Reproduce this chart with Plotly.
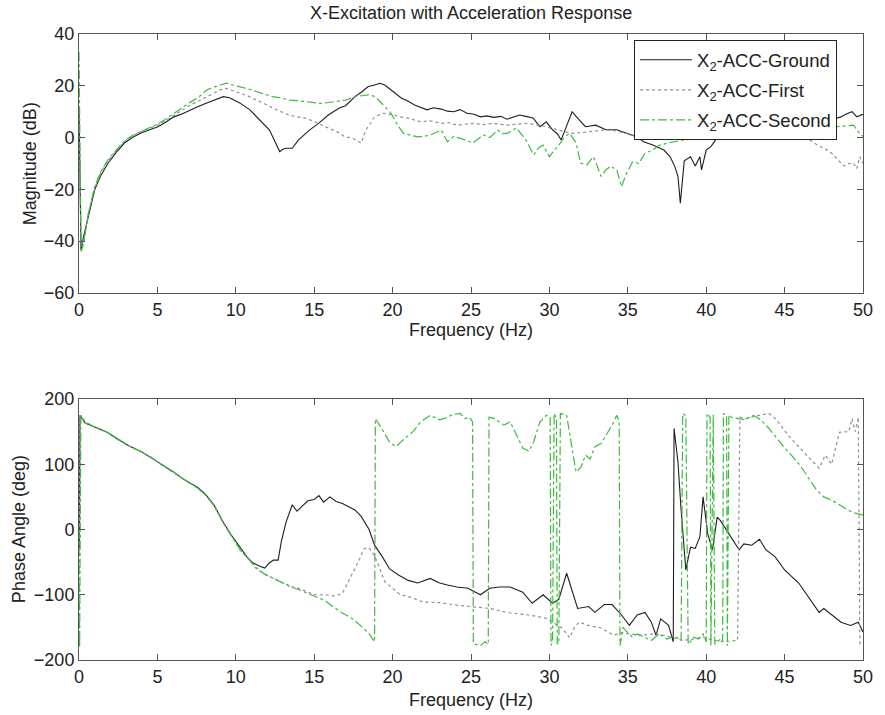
import plotly.graph_objects as go

# ---------------- Magnitude (dB) ----------------
ground_mag_f = [0.0, 0.06, 0.13, 0.3, 0.59, 1.0, 1.4, 1.85, 2.4, 2.9, 3.4, 3.95, 4.5, 5.0, 5.5, 6.05, 6.6, 7.1, 7.6, 8.15,
                8.7, 9.2, 9.6, 10.25, 10.9, 11.5, 12.15, 12.45, 12.8, 13.0, 13.2, 13.6, 14.0, 14.7, 15.3, 15.9, 16.6,
                17.0, 17.6, 18.0, 18.45, 18.8, 19.2, 19.5, 19.9, 20.55, 21.0, 21.4, 22.2, 22.6, 23.1, 23.5, 23.9, 24.3,
                24.75, 25.2, 25.6, 26.0, 26.45, 26.9, 27.3, 27.7, 28.1, 28.5, 28.95, 29.4, 29.8, 30.2, 30.5, 30.75,
                31.0, 31.2, 31.45, 31.7, 31.9, 32.3, 32.95, 33.6, 34.3, 35.2, 35.6, 36.0, 36.6, 37.3, 37.7, 38.0,
                38.2, 38.35, 38.5, 38.6, 39.0, 39.3, 39.6, 39.7, 40.0, 40.3, 40.6, 41.0, 41.5, 42.0, 43.0, 44.0,
                45.0, 46.0, 47.0, 48.0, 48.6, 48.9, 49.3, 49.6, 50.0]
ground_mag_db = [12, -20, -43.4, -38, -30.5, -20.2, -14.5, -9.9, -5.5, -2.1, 0, 1.8, 3, 4.1, 5.8, 8, 9.2, 10.7, 12, 13.4,
                 14.6, 15.8, 15.4, 13.4, 10.7, 6.8, 2.9, -0.9, -5.4, -4.5, -4.1, -4.1, -0.9, 2.9, 5.6, 8.7, 11.4,
                 12.3, 15.8, 17.5, 19.7, 20.2, 21, 20.3, 18.4, 15.3, 14, 12.6, 10.7, 11.5, 11, 10.2, 10, 10.8,
                 9.4, 9, 8, 8.4, 7.8, 8.2, 7.1, 7.8, 8.7, 8.2, 7.6, 4.2, 6.1, 3, 1.5, -0.9,
                 3, 6.5, 10, 8.2, 6.8, 4.2, 4.8, 3, 3, 1, 0.2, -1.6, -2.9, -4.8, -7.4, -11.2,
                 -15, -25.3, -14, -9, -7.4, -11, -7.4, -12.5, -4.8, -3.5, -0.9, 2, 4, 5, 6, 5,
                 6, 7, 6, 7, 8, 9, 10, 8, 9]

first_mag_f = [0.0, 0.06, 0.13, 0.3, 0.59, 1.0, 1.4, 1.85, 2.4, 2.9, 3.4, 3.95, 4.5, 5.0, 5.5, 6.05, 6.6, 7.1, 7.6, 8.15,
               8.6, 9.0, 9.4, 9.8, 10.25, 10.8, 11.3, 11.8, 12.35, 12.9, 13.4, 13.9, 14.45, 15.0, 15.5, 16.0, 16.6,
               16.9, 17.4, 17.7, 18.0, 18.3, 18.6, 18.85, 19.4, 20.1, 20.5, 21.0, 21.8, 22.4, 23.1, 23.6, 24.1, 24.6,
               25.1, 25.8, 26.4, 27.3, 27.9, 28.5, 29.4, 30.0, 30.45, 31.0, 31.5, 32.3, 33.0, 33.6, 34.3, 35.0, 35.6,
               36.5, 38.0, 40.0, 42.0, 44.0, 45.5, 46.5, 47.1, 47.7, 48.1, 48.4, 48.8, 49.1, 49.4, 49.6, 49.8, 50.0]
first_mag_db = [10, -15, -41, -40, -29.5, -19.5, -13.5, -9, -4.8, -1.5, 0.5, 2.3, 3.6, 4.8, 6.5, 8.7, 10.6, 12.6, 14, 15.8,
                17, 18.4, 19, 18.2, 17.1, 16, 14.5, 13.2, 11.4, 10, 8.7, 8, 7.5, 6.2, 4.9, 3.5, 1.8,
                0.5, -0.2, -1, -2.1, 3, 6, 8, 9.4, 8.7, 8, 7.5, 6.1, 6.5, 5.5, 5.8, 4.8, 5.2,
                5.5, 5, 5.5, 4.8, 5.2, 5.5, 4.8, 3.8, 2.9, 2.2, 1.6, 2.2, 2.6, 3, 2.5, 1.5, 0.5,
                0.5, 1, 1.5, 1, 0.5, 0.2, -0.5, -2.9, -4.8, -6.5, -8.7, -11, -10, -9.9, -12, -7.4, -10]

second_mag_f = [0.0, 0.05, 0.13, 0.3, 0.59, 1.0, 1.4, 1.85, 2.4, 2.9, 3.4, 3.95, 4.5, 5.0, 5.5, 6.05, 6.6, 7.1, 7.6, 8.15,
                8.6, 9.0, 9.4, 9.8, 10.25, 10.8, 11.3, 11.8, 12.35, 12.9, 13.4, 13.9, 14.45, 15.0, 15.5, 16.0, 16.6,
                17.0, 17.6, 18.0, 18.45, 18.8, 19.1, 19.5, 19.9, 20.3, 20.7, 21.2, 21.6, 22.0, 22.4, 23.1, 23.5, 23.9,
                24.3, 24.7, 25.1, 25.5, 25.8, 26.2, 26.7, 27.0, 27.3, 27.9, 28.2, 28.5, 29.0, 29.3, 29.6, 30.0, 30.3,
                30.6, 31.0, 31.3, 31.7, 32.0, 32.4, 32.8, 33.05, 33.3, 33.6, 33.9, 34.3, 34.6, 34.9, 35.3, 35.7,
                36.1, 36.6, 37.0, 37.6, 38.5, 40.0, 42.0, 44.0, 46.0, 48.0, 49.0, 49.4, 49.6, 49.8, 50.0]
second_mag_db = [33, 10, -44, -41, -29.5, -19, -13, -8.5, -4.5, -1.2, 0.8, 2.4, 3.8, 5.2, 7, 9.4, 11.6, 13.7, 15.5, 18.4,
                 19.5, 20.4, 21, 20.3, 19.7, 18.8, 17.8, 16.8, 15.8, 15.3, 14.5, 14.3, 13.8, 13.5, 13.2, 13.6, 14.2,
                 14.5, 15.8, 16.2, 16.5, 16, 14.5, 12, 9.4, 5, 1.6, 0.8, 0.3, 0.5, 1, 2.9, -1.6, 0.5,
                 -0.2, -1, -2.1, -0.5, 1, 0, 2.9, 1.5, 1.6, 3.7, 1.5, -0.9, -6.7, -4, -2.9, -7.4, -5,
                 -2.9, 0.5, 1.6, -2.1, -9.9, -10.5, -7.4, -11, -15, -12.5, -11, -12.5, -19, -14, -9.4, -10,
                 -6, -4.8, -3, -2, -1, 0, 1, 2, 3, 4, 4.5, 4.8, 3, 1.5, 0.5]

# ---------------- Phase (deg) ----------------
ground_ph_f = [0.0, 0.03, 0.06, 0.4, 1.0, 1.8, 2.5, 3.2, 4.0, 4.6, 5.2, 6.05, 6.6, 7.1, 7.6, 8.1, 8.6, 9.2, 9.7, 10.3,
               10.7, 11.1, 11.5, 11.85, 12.1, 12.4, 12.7, 12.9, 13.2, 13.6, 13.9, 14.2, 14.6, 15.0, 15.3, 15.6, 16.0,
               16.4, 16.8, 17.2, 17.6, 18.0, 18.5, 18.85, 19.3, 19.8, 20.4, 21.0, 21.6, 22.4, 23.0, 23.5, 24.1, 24.8,
               25.3, 25.6, 26.2, 26.8, 27.5, 28.3, 28.9, 29.6, 30.2, 30.6, 31.1, 31.5, 31.8, 32.5, 32.9, 33.5, 34.0,
               34.6, 35.1, 35.6, 36.1, 36.5, 36.8, 37.1, 37.6, 37.9, 37.95, 38.2, 38.4, 38.7, 39.0, 39.3, 39.6, 39.8,
               40.1, 40.4, 40.7, 40.9, 41.3, 41.7, 42.1, 42.4, 42.9, 43.4, 43.8, 44.4, 45.0, 45.9, 46.5, 47.2, 47.5,
               48.0, 48.6, 49.2, 49.7, 50.0]
ground_ph_deg = [100, -30, 175, 163, 157, 149, 138, 128, 119, 110, 100, 88, 78, 71, 64, 53, 38, 11, -8, -28,
                 -42, -51, -56, -59, -52, -47, -47, -19, 11, 38, 28, 35, 44, 46, 52, 42, 50,
                 43, 40, 35, 30, 20, 0, -24, -40, -60, -70, -78, -82, -75, -82, -85, -88, -90,
                 -96, -100, -90, -88, -88, -96, -113, -100, -113, -107, -67, -100, -121, -118, -127, -115, -115,
                 -131, -147, -131, -127, -142, -162, -137, -147, -172, 155, 103, 30, -62, -27, -29, -11, 50,
                 -7, -31, 19, 14, -1, -15, -31, -22, -24, -15, -31, -42, -62, -82, -102, -127, -121,
                 -131, -142, -147, -142, -157]

first_ph_f = [0.0, 0.03, 0.06, 0.4, 1.0, 1.8, 2.5, 3.2, 4.0, 4.6, 5.2, 6.05, 6.6, 7.1, 7.6, 8.1, 8.6, 9.2, 9.7, 10.3,
              10.8, 11.3, 11.8, 12.4, 13.0, 13.6, 14.0, 14.5, 15.0, 15.7, 16.3, 16.8, 17.4, 17.8, 18.2, 18.5, 18.85,
              19.5, 20.5, 21.2, 21.9, 23.0, 24.1, 24.9, 26.2, 27.5, 28.7, 29.8, 30.3, 30.8, 31.3, 31.6, 31.9, 32.5,
              33.3, 34.1, 34.6, 35.7, 36.8, 37.8, 38.5, 39.2, 39.8, 40.5, 41.2, 42.0, 42.15, 42.5, 43.0, 43.5, 44.0,
              44.5, 45.2, 46.2, 47.2, 47.6, 48.0, 48.5, 49.1, 49.3, 49.5, 49.7, 49.8, 50.0]
first_ph_deg = [100, -30, 175, 163, 157, 149, 138, 128, 119, 110, 100, 88, 78, 71, 63, 52, 37, 10, -10, -32,
                -45, -60, -68, -75, -82, -88, -90, -95, -100, -100, -102, -98, -70, -50, -29, -28, -40,
                -80, -100, -104, -111, -112, -116, -118, -121, -128, -131, -136, -144, -151, -166, -150, -142, -147,
                -151, -162, -158, -162, -160, -165, -170, -168, -165, -170, -172, -170, 172, 170, 173, 175, 178,
                168, 145, 119, 94, 114, 100, 149, 150, 170, 150, 172, -175, -175]

second_ph_f = [0.0, 0.04, 0.12, 0.4, 1.0, 1.8, 2.5, 3.2, 4.0, 4.6, 5.2, 6.05, 6.6, 7.1, 7.6, 8.1, 8.6, 9.2, 9.7, 10.3,
               10.8, 11.3, 11.8, 12.4, 13.0, 13.5, 14.0, 14.5, 15.0, 15.6, 16.2, 16.8, 17.4, 18.0, 18.5, 18.85, 18.9,
               19.3, 19.8, 20.2, 20.8, 21.3, 21.8, 22.4, 23.0, 23.5, 23.8, 24.3, 24.6, 24.9, 25.1, 25.15, 25.6, 25.9,
               26.1, 26.15, 26.5, 27.1, 27.5, 28.0, 28.3, 28.7, 29.0, 29.4, 29.8, 30.05, 30.1, 30.2, 30.3, 30.45,
               30.5, 30.6, 30.7, 31.1, 31.4, 31.7, 32.0, 32.3, 32.6, 32.9, 33.3, 33.7, 34.0, 34.3, 34.45, 34.5,
               34.7, 35.0, 35.3, 35.6, 36.0, 36.5, 37.0, 37.5, 38.0, 38.4, 38.5, 38.7, 38.85, 39.2, 39.5, 39.8,
               40.0, 40.05, 40.25, 40.3, 40.45, 40.55, 40.9, 41.05, 41.1, 41.3, 41.35, 41.45, 41.6, 42.0, 42.5,
               43.0, 43.5, 44.0, 44.5, 45.0, 45.5, 46.0, 46.5, 47.0, 47.5, 48.0, 48.5, 49.0, 49.5, 50.0]
second_ph_deg = [0, -181, 175, 165, 157, 149, 139, 128, 119, 111, 100, 87, 78, 70, 63, 52, 37, 10, -10, -32,
                 -45, -58, -68, -75, -82, -88, -92, -97, -103, -108, -118, -128, -136, -148, -160, -172, 170,
                 155, 134, 127, 140, 150, 165, 175, 168, 172, 176, 178, 170, 172, 165, -175, -178, -172,
                 -176, 172, 170, 160, 165, 140, 125, 120, 135, 165, 175, 172, -178, -170, 178, 170,
                 -175, -175, 178, 175, 130, 88, 95, 114, 108, 127, 132, 148, 160, 175, 165, -178,
                 -150, -158, -165, -160, -165, -170, -160, -168, -163, -170, 178, 174, -176, -165, -168, -160,
                 -172, 178, 172, -178, 176, -176, -168, -172, 178, 174, -178, 176, 172, 170, 168,
                 175, 168, 155, 140, 125, 112, 98, 80, 62, 50, 45, 38, 30, 25, 22]

series_names = ["X<sub>2</sub>-ACC-Ground", "X<sub>2</sub>-ACC-First", "X<sub>2</sub>-ACC-Second"]
x_ticks = [0, 5, 10, 15, 20, 25, 30, 35, 40, 45, 50]
mag_ticks = [-60, -40, -20, 0, 20, 40]
phase_ticks = [-200, -100, 0, 100, 200]

FONT = "Liberation Sans, Arial, Helvetica, sans-serif"
TXT = "#222222"
C_GROUND = "#1e1e1e"
C_FIRST = "#8f8f8f"
C_SECOND = "#3dbb3d"

fig = go.Figure()
styles = [
    (C_GROUND, "solid", 1.1),
    (C_FIRST, "dot", 1.2),
    (C_SECOND, "dashdot", 1.2),
]
mag_data = [(ground_mag_f, ground_mag_db), (first_mag_f, first_mag_db), (second_mag_f, second_mag_db)]
ph_data = [(ground_ph_f, ground_ph_deg), (first_ph_f, first_ph_deg), (second_ph_f, second_ph_deg)]

for i, ((fx, fy), (color, dash, w)) in enumerate(zip(mag_data, styles)):
    fig.add_trace(go.Scatter(x=fx, y=fy, mode="lines", name=series_names[i], legendgroup=f"g{i}",
                             line=dict(color=color, dash=dash, width=w), xaxis="x", yaxis="y"))
for i, ((fx, fy), (color, dash, w)) in enumerate(zip(ph_data, styles)):
    fig.add_trace(go.Scatter(x=fx, y=fy, mode="lines", name=series_names[i], legendgroup=f"g{i}",
                             showlegend=False, line=dict(color=color, dash=dash, width=w),
                             xaxis="x2", yaxis="y2"))

axis_common = dict(showline=True, linecolor="#555555", linewidth=1, mirror="ticks", ticks="inside",
                   ticklen=6, tickcolor="#555555", showgrid=False, zeroline=False,
                   tickfont=dict(family=FONT, size=18, color=TXT))

def ann(text, x, y, angle=0):
    return dict(text=text, xref="paper", yref="paper", x=x, y=y, xanchor="center", yanchor="middle",
                textangle=angle, showarrow=False, font=dict(family=FONT, size=18, color=TXT))

# plot area: x 79..872 px, top y 34..293, bottom y 399..660
fig.update_layout(
    width=885, height=715,
    margin=dict(l=79, r=13, t=34, b=55),
    paper_bgcolor="white", plot_bgcolor="white",
    font=dict(family=FONT, size=18, color=TXT),
    showlegend=True,
    legend=dict(x=0.708, y=0.99, xanchor="left", yanchor="top", bgcolor="white",
                bordercolor="#222222", borderwidth=1, font=dict(family=FONT, size=18.5, color=TXT),
                tracegroupgap=3, itemwidth=52),
    xaxis=dict(domain=[0, 1], anchor="y", range=[0, 50], tickvals=x_ticks, **axis_common),
    yaxis=dict(domain=[0.5863, 1], anchor="x", range=[-60, 40], tickvals=mag_ticks, **axis_common),
    xaxis2=dict(domain=[0, 1], anchor="y2", range=[0, 50], tickvals=x_ticks, **axis_common),
    yaxis2=dict(domain=[0, 0.4169], anchor="x2", range=[-200, 200], tickvals=phase_ticks, **axis_common),
    annotations=[
        ann("X-Excitation with Acceleration Response", 0.5, 1.0335),
        ann("Frequency (Hz)", 0.5, 0.527),
        ann("Frequency (Hz)", 0.5, -0.0639),
        ann("Magnitude (dB)", -0.063, 0.793, -90),
        ann("Phase Angle (deg)", -0.0757, 0.2085, -90),
    ],
)

fig.write_html("out.html")
